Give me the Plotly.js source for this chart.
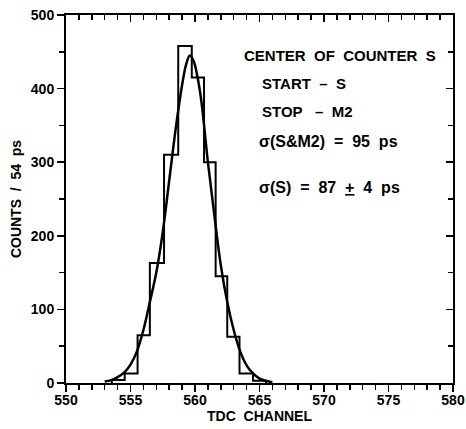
<!DOCTYPE html>
<html>
<head>
<meta charset="utf-8">
<script src="https://cdn.plot.ly/plotly-3.0.1.min.js"></script>
<style>
html,body{margin:0;padding:0;background:#fff;}
#chart{width:466px;height:429px;}
</style>
</head>
<body>
<div id="chart"></div>
<script>
// Histogram bin edges (TDC channel) and counts per bin
const binEdges = [553.55, 554.55, 555.55, 556.5, 557.6, 558.7, 559.75, 560.7, 561.6, 562.5, 563.45, 564.5, 565.5];
const binCounts = [4, 13, 65, 163, 310, 458, 415, 300, 145, 63, 13, 3];

// Fitted curve
const fitChannel = [553.0, 553.5, 554.0, 554.5, 555.0, 555.5, 556.0, 556.5, 557.0, 557.5, 558.0, 558.5, 559.0, 559.3, 559.6, 559.9, 560.2, 560.5, 561.0, 561.5, 562.0, 562.5, 563.0, 563.5, 564.0, 564.5, 565.0, 565.5, 566.0];
const fitCounts  = [2, 4, 8, 14, 25, 43, 72, 110, 150, 205, 275, 345, 405, 432, 445, 437, 415, 382, 300, 228, 160, 110, 72, 43, 24, 13, 6, 3, 1];

const xTickVals = [550, 555, 560, 565, 570, 575, 580];
const yTickVals = [0, 100, 200, 300, 400, 500];

const textLines = [
  "CENTER\u00a0\u00a0OF\u00a0\u00a0COUNTER\u00a0\u00a0S",
  "START\u00a0\u00a0\u2013\u00a0\u00a0S",
  "STOP\u00a0\u00a0\u00a0\u2013\u00a0\u00a0M2",
  "\u03c3(S&M2)\u00a0\u00a0=\u00a0\u00a095\u00a0\u00a0ps",
  "\u03c3(S)\u00a0\u00a0=\u00a0\u00a087\u00a0\u00a0<u>+</u>\u00a0\u00a04\u00a0\u00a0ps"
];

// Build step outline from the bins
const stepX = [binEdges[0]].concat(binEdges);
const stepY = [0].concat(binCounts).concat([0]);

const FONT = 'Liberation Sans, Arial, Helvetica, sans-serif';

const traces = [
  {
    x: stepX, y: stepY, type: 'scatter', mode: 'lines',
    line: {shape: 'hv', color: '#000', width: 2},
    hoverinfo: 'skip', showlegend: false
  },
  {
    x: fitChannel, y: fitCounts, type: 'scatter', mode: 'lines',
    line: {shape: 'spline', smoothing: 1, color: '#000', width: 2.5},
    hoverinfo: 'skip', showlegend: false
  },
  {
    x: [550], y: [0], xaxis: 'x2', yaxis: 'y2', type: 'scatter', mode: 'markers',
    marker: {opacity: 0}, hoverinfo: 'skip', showlegend: false
  }
];

const tickFont = {family: FONT, size: 14, color: '#000', weight: 'bold'};

const layout = {
  width: 466, height: 429,
  margin: {l: 66, r: 13, t: 15, b: 46},
  paper_bgcolor: '#fff', plot_bgcolor: '#fff',
  showlegend: false,
  xaxis: {
    range: [550, 580], tickvals: xTickVals, ticktext: xTickVals.map(String),
    ticks: 'outside', ticklen: 7, tickwidth: 1.5, tickcolor: '#000',
    minor: {dtick: 1, ticks: 'outside', ticklen: 5, tickwidth: 1.5, tickcolor: '#000', showgrid: false},
    showline: true, linewidth: 2, linecolor: '#000',
    showgrid: false, zeroline: false,
    tickfont: tickFont, ticklabelstandoff: -4,
    title: {text: 'TDC\u00a0\u00a0CHANNEL', font: {family: FONT, size: 14, color: '#000', weight: 'bold'}, standoff: 2},
    fixedrange: true
  },
  xaxis2: {
    range: [550, 580], overlaying: 'x', side: 'top', anchor: 'y',
    tickvals: xTickVals, showticklabels: false,
    ticks: 'inside', ticklen: 7, tickwidth: 1.5, tickcolor: '#000',
    minor: {dtick: 1, ticks: 'inside', ticklen: 5, tickwidth: 1.5, tickcolor: '#000', showgrid: false},
    showline: true, linewidth: 2, linecolor: '#000',
    showgrid: false, zeroline: false, fixedrange: true
  },
  yaxis: {
    range: [0, 500], tickvals: yTickVals, ticktext: yTickVals.map(String),
    ticks: 'outside', ticklen: 7, tickwidth: 1.5, tickcolor: '#000',
    minor: {dtick: 50, ticks: 'outside', ticklen: 5, tickwidth: 1.5, tickcolor: '#000', showgrid: false},
    showline: true, linewidth: 2, linecolor: '#000',
    showgrid: false, zeroline: false,
    tickfont: tickFont,
    title: {text: 'COUNTS\u00a0\u00a0/\u00a0\u00a054\u00a0\u00a0ps', font: {family: FONT, size: 14, color: '#000', weight: 'bold'}, standoff: 6},
    fixedrange: true
  },
  yaxis2: {
    range: [0, 500], overlaying: 'y', side: 'right', anchor: 'x',
    tickvals: yTickVals, showticklabels: false,
    ticks: 'inside', ticklen: 7, tickwidth: 1.5, tickcolor: '#000',
    minor: {dtick: 50, ticks: 'inside', ticklen: 5, tickwidth: 1.5, tickcolor: '#000', showgrid: false},
    showline: true, linewidth: 2, linecolor: '#000',
    showgrid: false, zeroline: false, fixedrange: true
  },
  annotations: [
    {text: textLines[0], x: (242 - 66) / 387, y: (383 - 55) / 368, size: 15},
    {text: textLines[1], x: (260 - 66) / 387, y: (383 - 83) / 368, size: 15},
    {text: textLines[2], x: (260 - 66) / 387, y: (383 - 111) / 368, size: 15},
    {text: textLines[3], x: (257 - 66) / 387, y: (383 - 141) / 368, size: 16},
    {text: textLines[4], x: (257 - 66) / 387, y: (383 - 187) / 368, size: 16}
  ].map(a => ({
    text: a.text, x: a.x, y: a.y, xref: 'paper', yref: 'paper',
    xanchor: 'left', yanchor: 'middle', showarrow: false,
    font: {family: FONT, size: a.size, color: '#000', weight: 'bold'}
  }))
};

Plotly.newPlot('chart', traces, layout, {displayModeBar: false, staticPlot: true});
</script>
</body>
</html>
